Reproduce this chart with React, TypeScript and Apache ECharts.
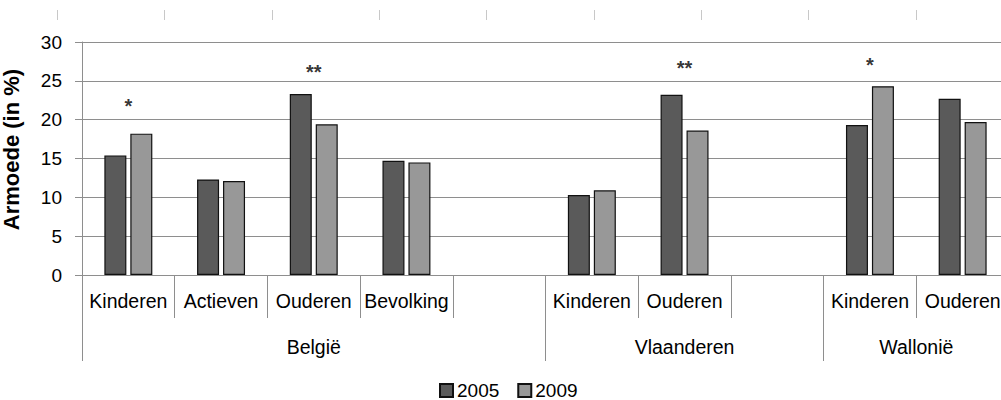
import React, { useEffect, useRef } from "react";
import * as echarts from "echarts";

const categories = ["Kinderen", "Actieven", "Ouderen", "Bevolking", "", "Kinderen", "Ouderen", "", "Kinderen", "Ouderen"];
const values2005: (number | null)[] = [15.4, 12.3, 23.3, 14.7, null, 10.3, 23.2, null, 19.3, 22.7];
const values2009: (number | null)[] = [18.2, 12.1, 19.4, 14.5, null, 10.9, 18.6, null, 24.3, 19.7];
const regions = ["België", "Vlaanderen", "Wallonië"];
const regionCenters = [2.5, 6.5, 9];
const regionBounds = [0, 5, 8, 10];
const sigIndex = [0, 2, 6, 8];
const sigY = [22.1, 26.5, 27.0, 27.4];
const sigMark = ["*", "**", "**", "*"];
const topTickCategories = ["", "", "", "", "", "", "", ""];

const FONT = "Liberation Sans";

export default function App() {
  const ref = useRef<HTMLDivElement>(null);
  useEffect(() => {
    if (!ref.current) return;
    const chart = echarts.init(ref.current, undefined, { renderer: "svg" });
    const gridColor = "#8e8e8e";
    chart.setOption({
      animation: false,
      backgroundColor: "#ffffff",
      textStyle: { fontFamily: FONT, color: "#000" },
      grid: [
        { left: 82, top: 42, height: 233, width: 927, containLabel: false, outerBoundsMode: "none" },
        { left: 57, top: 0, width: 859, height: 10, outerBoundsMode: "none" },
      ],
      legend: {
        top: 376,
        left: 434,
        itemWidth: 13,
        itemHeight: 13,
        itemGap: 18,
        icon: "rect",
        textStyle: { fontSize: 19, fontFamily: FONT, color: "#000", padding: [0, 0, 0, -1] },
        data: ["2005", "2009"],
      },
      xAxis: [
        {
          type: "category",
          gridIndex: 0,
          data: categories,
          position: "bottom",
          axisLine: { show: true, lineStyle: { color: gridColor, width: 1 } },
          axisTick: { show: true, length: 43, lineStyle: { color: gridColor } },
          axisLabel: { fontSize: 19.5, fontFamily: FONT, color: "#000", margin: 16, interval: 0 },
          splitLine: { show: false },
        },
        {
          type: "value",
          gridIndex: 0,
          min: 0,
          max: 10,
          position: "bottom",
          axisLine: { show: false },
          splitLine: { show: false },
          axisTick: { show: true, length: 86, customValues: regionBounds, lineStyle: { color: gridColor } },
          axisLabel: {
            show: true,
            customValues: regionCenters,
            fontSize: 19.5,
            fontFamily: FONT,
            color: "#000",
            margin: 62,
            formatter: (v: number) => {
              const i = regionCenters.indexOf(v);
              return i >= 0 ? regions[i] : "";
            },
          },
        },
        {
          type: "category",
          gridIndex: 1,
          data: topTickCategories,
          position: "top",
          axisLine: { show: false },
          axisTick: { show: true, inside: true, length: 10, lineStyle: { color: "#c8c8c8" } },
          axisLabel: { show: false },
          splitLine: { show: false },
        },
      ],
      yAxis: [
        {
          type: "value",
          gridIndex: 0,
          min: 0,
          max: 30,
          interval: 5,
          name: "Armoede (in %)",
          nameLocation: "middle",
          nameRotate: 90,
          nameGap: 60,
          nameTextStyle: { fontSize: 22, fontWeight: "bold", fontFamily: FONT, color: "#000", padding: [0, 0, 0, 18] },
          axisLine: { show: true, lineStyle: { color: gridColor } },
          axisTick: { show: true, length: 7, lineStyle: { color: gridColor } },
          axisLabel: { fontSize: 19, fontFamily: FONT, color: "#000", margin: 20 },
          splitLine: { show: true, lineStyle: { color: gridColor, width: 1 } },
        },
        {
          type: "value",
          gridIndex: 1,
          show: false,
        },
      ],
      series: [
        {
          name: "2005",
          type: "bar",
          xAxisIndex: 0,
          yAxisIndex: 0,
          data: values2005,
          barWidth: 22,
          barGap: "18%",
          itemStyle: { color: "#5a5a5a", borderColor: "#111", borderWidth: 1.2 },
        },
        {
          name: "2009",
          type: "bar",
          xAxisIndex: 0,
          yAxisIndex: 0,
          data: values2009,
          barWidth: 22,
          barGap: "18%",
          itemStyle: { color: "#989898", borderColor: "#111", borderWidth: 1.2 },
        },
        {
          name: "significance",
          type: "scatter",
          xAxisIndex: 0,
          yAxisIndex: 0,
          symbolSize: 0,
          silent: true,
          data: sigIndex.map((idx, i) => ({ value: [idx, sigY[i]], name: sigMark[i] })),
          label: {
            show: true,
            position: "inside",
            offset: [0, 3],
            fontSize: 20,
            fontWeight: "bold",
            fontFamily: FONT,
            color: "#000000",
            textBorderWidth: 0,
            formatter: (p: any) => p.name,
          },
        },
      ],
    });
    return () => chart.dispose();
  }, []);
  return (
    <div
      ref={ref}
      style={{ position: "fixed", left: 0, top: 0, width: 1001, height: 400, background: "#fff" }}
    />
  );
}
